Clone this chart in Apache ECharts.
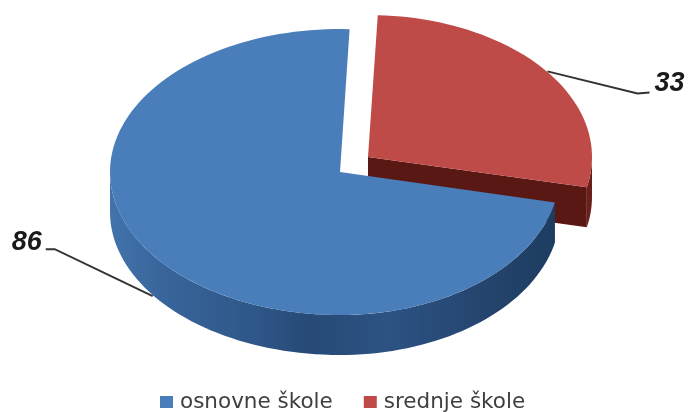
<!DOCTYPE html>
<html><head><meta charset="utf-8">
<style>html,body{margin:0;padding:0;background:#fff}#c{width:690px;height:412px;filter:blur(0.6px)}</style>
<script src="https://cdn.jsdelivr.net/npm/echarts@6/dist/echarts.min.js"></script>
</head><body><div id="c"></div>
<script>
const categories = ['osnovne škole', 'srednje škole'];
const values = [86, 33];
const faceColors = ['#4a7ebb', '#be4b48'];
const startAngle = 2.5;
const depth = 40;

const total = values.reduce((a, b) => a + b, 0);
const redSweep = values[1] / total * 360;
const spans = [
  { from: startAngle + redSweep, to: startAngle + 360 },
  { from: startAngle, to: startAngle + redSweep }
];
const shapes = [
  { cx: 340, cy: 172, rxR: 220, rxL: 230, ry: 143 },
  { cx: 368, cy: 157, rxR: 224, rxL: 224, ry: 142 }
];
const pt = (g, t) => {
  const r = t * Math.PI / 180, s = Math.sin(r);
  return [g.cx + (s >= 0 ? g.rxR : g.rxL) * s, g.cy - g.ry * Math.cos(r)];
};
const arc = (g, a, b, dy) => {
  const out = [], n = Math.max(2, Math.ceil(Math.abs(b - a) / 2));
  for (let i = 0; i <= n; i++) {
    const p = pt(g, a + (b - a) * i / n);
    out.push([p[0], p[1] + dy]);
  }
  return out;
};
const poly = (points, fill) => ({ type: 'polygon', shape: { points }, style: { fill, lineWidth: 0 } });
const blueWall = {
  type: 'linear', x: 0, y: 0, x2: 1, y2: 0,
  colorStops: [
    { offset: 0, color: '#4273ac' }, { offset: 0.12, color: '#38659b' },
    { offset: 0.32, color: '#2f5789' }, { offset: 0.45, color: '#274a76' },
    { offset: 0.62, color: '#2c5384' }, { offset: 0.82, color: '#264670' },
    { offset: 1, color: '#1c3c60' }
  ]
};
const labelFont = 'italic bold 27px "Liberation Sans"';
const leader = points => ({ type: 'polyline', shape: { points }, style: { stroke: '#333333', lineWidth: 2, fill: null } });

function renderSlice(i) {
  return function (params, api) {
    const g = shapes[i], s = spans[i];
    const frac = api.value(0) / total;           // ties the drawn slice to its value
    const to = s.from + frac * 360;
    const children = [];
    const apex = [g.cx, g.cy];
    const m = pt(g, (s.from + to) / 2);
    if (i === 1) {
      const end = pt(g, to);
      children.push(poly([apex, end, [end[0], end[1] + depth], [apex[0], apex[1] + depth]], '#5a1815'));
      const wa = Math.max(s.from, 90);
      children.push(poly(arc(g, wa, to, 0).concat(arc(g, to, wa, depth)), '#6b1f1b'));
      children.push(poly([apex].concat(arc(g, s.from, to, 0)), faceColors[1]));
      children.push(leader([[m[0] + 2, m[1] + 1], [m[0] + 92, m[1] + 23], [m[0] + 104, m[1] + 22]]));
      children.push({ type: 'text', style: { text: String(api.value(0)), x: m[0] + 109, y: m[1] + 0, font: labelFont, fill: '#1a1a1a' } });
    } else {
      const wa = s.from, wb = 270;
      children.push(poly(arc(g, wa, wb, 0).concat(arc(g, wb, wa, depth)), blueWall));
      children.push(poly([apex].concat(arc(g, s.from, to, 0)), faceColors[0]));
      children.push(leader([[m[0] - 5, m[1] + 37], [m[0] - 103, m[1] - 10], [m[0] - 112, m[1] - 10]]));
      children.push({ type: 'text', style: { text: String(api.value(0)), x: m[0] - 146, y: m[1] - 30, font: labelFont, fill: '#1a1a1a' } });
    }
    return { type: 'group', children };
  };
}

const chart = echarts.init(document.getElementById('c'), null, { renderer: 'canvas' });
chart.setOption({
  animation: false,
  backgroundColor: '#ffffff',
  legend: {
    data: categories.map(name => ({ name, icon: 'rect' })),
    left: 155, top: 386, itemWidth: 13, itemHeight: 12, itemGap: 31,
    textStyle: { fontFamily: 'DejaVu Sans', fontSize: 21.5, color: '#3f3f3f', padding: [0, 0, 0, 2] },
    selectedMode: false
  },
  series: [
    // red is drawn first so the blue slice covers its wall
    { type: 'custom', name: categories[1], coordinateSystem: 'none', renderItem: renderSlice(1),
      itemStyle: { color: faceColors[1] }, data: [[values[1]]], silent: true },
    { type: 'custom', name: categories[0], coordinateSystem: 'none', renderItem: renderSlice(0),
      itemStyle: { color: faceColors[0] }, data: [[values[0]]], silent: true }
  ]
});
</script></body></html>
